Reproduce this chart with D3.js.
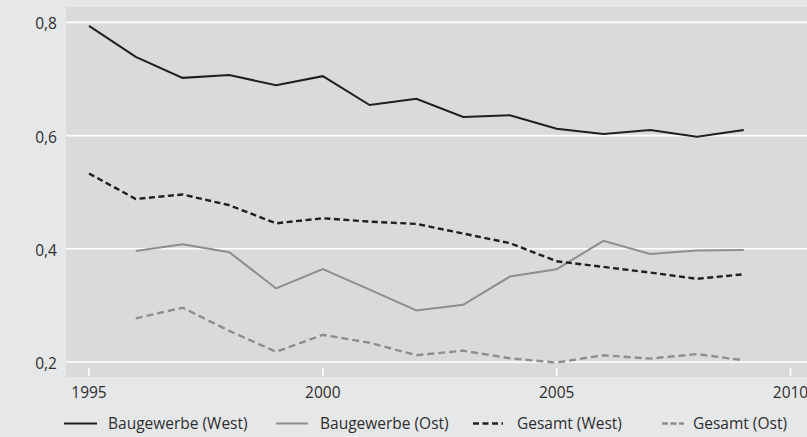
<!DOCTYPE html>
<html><head><meta charset="utf-8">
<script src="https://cdn.jsdelivr.net/npm/d3@7/dist/d3.min.js"></script>
<style>
html,body{margin:0;padding:0;background:#e6e7e9;}
svg{display:block;}
text{font-family:"Open Sans",sans-serif;fill:#2e2e2e;}
</style></head><body>
<svg id="c" width="807" height="437"></svg>
<script>
const years = [1995,1996,1997,1998,1999,2000,2001,2002,2003,2004,2005,2006,2007,2008,2009];
const bauWest = [0.794,0.739,0.702,0.707,0.689,0.705,0.654,0.665,0.633,0.636,0.612,0.603,0.610,0.598,0.610];
const bauOst  = [null,0.396,0.408,0.394,0.330,0.364,0.328,0.291,0.301,0.351,0.364,0.414,0.391,0.397,0.398];
const gesWest = [0.533,0.488,0.496,0.477,0.445,0.454,0.448,0.444,0.427,0.410,0.378,0.368,0.358,0.347,0.355];
const gesOst  = [null,0.277,0.296,0.255,0.218,0.248,0.234,0.212,0.220,0.2065,0.199,0.212,0.206,0.214,0.203];
const xTicks = [1995,2000,2005,2010];
const yTicks = [0.2,0.4,0.6,0.8];
const seriesNames = ["Baugewerbe (West)","Baugewerbe (Ost)","Gesamt (West)","Gesamt (Ost)"];

const svg = d3.select("#c");
const W = 807, H = 437;
const plot = {left:66, top:7, right:807, bottom:377};
const x = d3.scaleLinear().domain([1995,2010]).range([89,790.5]);
const y = d3.scaleLinear().domain([0.2,0.8]).range([362,22.4]);

svg.append("rect").attr("x",0).attr("y",0).attr("width",W).attr("height",H).attr("fill","#e6e7e9");
svg.append("rect").attr("x",plot.left).attr("y",plot.top).attr("width",plot.right-plot.left).attr("height",plot.bottom-plot.top).attr("fill","#d9dadc");

// gridlines
svg.append("g").selectAll("line").data(yTicks).join("line")
  .attr("x1",plot.left).attr("x2",plot.right)
  .attr("y1",d=>y(d)).attr("y2",d=>y(d))
  .attr("stroke","#fff").attr("stroke-width",1.6);
// y labels
svg.append("g").selectAll("text").data(yTicks).join("text")
  .attr("x",57).attr("y",d=>y(d)+7)
  .attr("text-anchor","end").attr("font-size",15.5)
  .text(d=>d3.format(".1f")(d).replace(".",","));
// x ticks
svg.append("g").selectAll("line").data(xTicks).join("line")
  .attr("x1",d=>x(d)).attr("x2",d=>x(d))
  .attr("y1",368).attr("y2",376)
  .attr("stroke","#fff").attr("stroke-width",1.6);
svg.append("g").selectAll("text").data(xTicks).join("text")
  .attr("x",d=>x(d)).attr("y",398)
  .attr("text-anchor","middle").attr("font-size",15.5)
  .text(d=>d);

const styles = [
  {data:bauWest, color:"#1f1f1f", dash:null, w:2},
  {data:bauOst,  color:"#8e8e8e", dash:null, w:2},
  {data:gesWest, color:"#1f1f1f", dash:"6,3.5", w:2.4},
  {data:gesOst,  color:"#8e8e8e", dash:"7,4", w:2.4}
];
const line = d3.line().defined(d=>d[1]!=null).x(d=>x(d[0])).y(d=>y(d[1]));
styles.forEach(s=>{
  svg.append("path").datum(years.map((yr,i)=>[yr,s.data[i]]))
    .attr("d",line).attr("fill","none").attr("stroke",s.color)
    .attr("stroke-width",s.w).attr("stroke-dasharray",s.dash)
    .attr("stroke-linejoin","miter");
});

// legend
const legend = [
  {x1:64, x2:97, tx:108, dash:null},
  {x1:276, x2:308, tx:320, dash:null},
  {x1:473, x2:503, tx:517, dash:"6,3.5"},
  {x1:662, x2:684, tx:693, dash:"6,2.5"}
];
const lg = svg.append("g");
seriesNames.forEach((n,i)=>{
  const s = styles[i], L = legend[i];
  lg.append("line").attr("x1",L.x1).attr("x2",L.x2).attr("y1",423.5).attr("y2",423.5)
    .attr("stroke",s.color).attr("stroke-width",s.w).attr("stroke-dasharray",L.dash);
  lg.append("text").attr("x",L.tx).attr("y",429).attr("font-size",15.5).text(n);
});
</script></body></html>
